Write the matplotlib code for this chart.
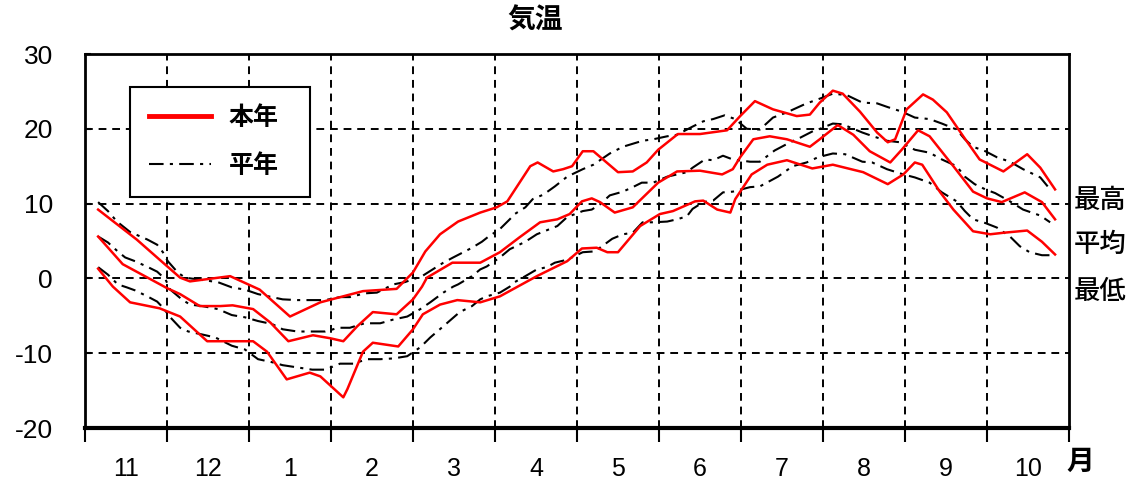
import matplotlib
matplotlib.use("Agg")
import matplotlib.pyplot as plt
from matplotlib.lines import Line2D

plt.rcParams['font.family'] = ['Liberation Sans', 'Noto Sans CJK JP', 'DejaVu Sans']

# x positions in months from Nov 1 (0 = start of Nov, 12 = end of Oct)
month_labels = ['11', '12', '1', '2', '3', '4', '5', '6', '7', '8', '9', '10']

# this year (本年) - daily max / mean / min, smoothed
x_max_now = [0.16, 0.63, 0.91, 1.16, 1.28, 1.77, 2.13, 2.50, 2.87, 3.39, 3.80, 4.00,
             4.15, 4.33, 4.55, 4.82, 5.02, 5.15, 5.43, 5.52, 5.71, 5.83, 5.94, 6.07,
             6.20, 6.50, 6.68, 6.85, 6.99, 7.23, 7.50, 7.83, 7.99, 8.17, 8.39, 8.68,
             8.84, 8.96, 9.12, 9.24, 9.45, 9.66, 9.79, 9.88, 10.02, 10.22, 10.34, 10.51,
             10.71, 10.91, 11.20, 11.49, 11.65, 11.83]
y_max_now = [9.2, 5.2, 2.5, 0.1, -0.4, 0.3, -1.5, -5.1, -3.2, -1.7, -1.4, 0.8,
             3.6, 5.9, 7.6, 8.8, 9.5, 10.3, 15.0, 15.5, 14.3, 14.6, 15.0, 17.0,
             17.0, 14.2, 14.3, 15.5, 17.2, 19.3, 19.3, 19.8, 21.7, 23.7, 22.6, 21.7,
             21.9, 23.5, 25.1, 24.7, 22.3, 19.5, 18.2, 18.6, 22.6, 24.6, 23.9, 22.2,
             19.0, 15.9, 14.3, 16.6, 14.8, 11.9]

x_avg_now = [0.16, 0.46, 1.00, 1.16, 1.40, 1.65, 1.80, 2.05, 2.26, 2.48, 2.78, 2.99,
             3.15, 3.32, 3.51, 3.80, 4.00, 4.11, 4.17, 4.48, 4.82, 5.06, 5.30, 5.55,
             5.76, 5.91, 6.06, 6.18, 6.28, 6.46, 6.68, 6.99, 7.22, 7.50, 7.77, 7.90,
             7.99, 8.15, 8.35, 8.56, 8.84, 8.96, 9.18, 9.37, 9.57, 9.82, 9.96, 10.16,
             10.30, 10.59, 10.83, 11.00, 11.18, 11.46, 11.67, 11.83]
y_avg_now = [5.6, 1.9, -1.3, -2.1, -3.7, -3.7, -3.6, -4.1, -5.9, -8.4, -7.6, -8.0,
             -8.4, -6.4, -4.5, -4.8, -2.8, -1.1, 0.1, 2.1, 2.1, 3.5, 5.5, 7.5,
             7.9, 8.6, 10.3, 10.7, 10.2, 8.8, 9.5, 12.8, 14.3, 14.4, 13.9, 14.6,
             16.2, 18.6, 19.0, 18.6, 17.6, 18.6, 20.5, 19.2, 17.0, 15.5, 17.2, 19.8,
             19.0, 15.0, 11.6, 10.7, 10.2, 11.5, 10.2, 7.9]

x_min_now = [0.16, 0.34, 0.55, 0.91, 1.16, 1.49, 1.77, 2.05, 2.22, 2.46, 2.74, 2.87,
             3.15, 3.20, 3.39, 3.51, 3.82, 4.00, 4.12, 4.33, 4.54, 4.82, 5.06, 5.51,
             5.88, 6.06, 6.24, 6.37, 6.50, 6.77, 7.01, 7.17, 7.44, 7.54, 7.71, 7.87,
             7.93, 8.13, 8.32, 8.56, 8.87, 9.12, 9.49, 9.79, 9.98, 10.12, 10.21, 10.43,
             10.59, 10.83, 11.04, 11.20, 11.49, 11.67, 11.83]
y_min_now = [1.3, -1.1, -3.2, -4.0, -5.1, -8.4, -8.4, -8.4, -9.8, -13.5, -12.6, -13.1,
             -15.9, -14.8, -9.8, -8.6, -9.1, -6.8, -4.8, -3.5, -2.9, -3.2, -2.4, 0.3,
             2.3, 4.0, 4.1, 3.5, 3.5, 7.0, 8.6, 9.0, 10.3, 10.4, 9.2, 8.8,
             10.6, 13.9, 15.2, 15.8, 14.7, 15.2, 14.2, 12.6, 13.9, 15.5, 15.2, 11.5,
             9.2, 6.3, 5.9, 6.1, 6.4, 4.9, 3.2]

# normal (平年)
x_max_norm = [0.16, 0.28, 0.39, 0.55, 0.76, 0.88, 0.95, 1.01, 1.13, 1.22, 1.62, 1.79,
              1.95, 2.11, 2.28, 2.41, 2.59, 2.78, 2.93, 3.11, 3.23, 3.41, 3.56, 3.76,
              3.90, 4.11, 4.24, 4.37, 4.49, 4.72, 4.84, 4.91, 5.06, 5.18, 5.24, 5.37,
              5.46, 5.59, 5.73, 5.88, 6.07, 6.20, 6.28, 6.40, 6.56, 6.80, 6.93, 7.10,
              7.22, 7.41, 7.54, 7.66, 7.80, 7.93, 8.07, 8.23, 8.39, 8.56, 8.80, 8.93,
              9.12, 9.29, 9.48, 9.66, 9.79, 9.96, 10.12, 10.30, 10.45, 10.63, 10.73, 10.83,
              10.98, 11.12, 11.28, 11.44, 11.65, 11.74]
y_max_norm = [10.2, 9.0, 7.6, 6.2, 5.2, 4.5, 3.5, 2.3, 0.8, 0.1, -0.5, -1.2,
              -1.5, -2.1, -2.5, -2.8, -2.9, -2.9, -2.9, -2.5, -2.5, -2.0, -1.9, -0.8,
              -0.5, 0.3, 1.2, 2.1, 2.8, 4.1, 4.9, 5.5, 6.6, 7.9, 8.6, 9.5,
              10.6, 11.2, 12.3, 13.6, 14.6, 15.2, 15.8, 16.7, 17.6, 18.4, 18.6, 19.0,
              19.2, 20.3, 21.0, 21.3, 21.8, 21.3, 20.0, 19.9, 21.5, 22.2, 23.4, 23.9,
              24.7, 24.5, 23.5, 23.4, 22.9, 22.3, 21.5, 21.3, 20.7, 19.9, 18.6, 17.6,
              17.0, 16.2, 15.6, 14.6, 13.5, 12.3]

x_avg_norm = [0.16, 0.28, 0.40, 0.49, 0.61, 0.77, 0.88, 0.98, 1.04, 1.18, 1.28, 1.43,
              1.62, 1.79, 1.95, 2.11, 2.28, 2.41, 2.59, 2.77, 2.93, 3.09, 3.23, 3.41,
              3.60, 3.76, 3.93, 4.09, 4.21, 4.37, 4.49, 4.55, 4.72, 4.82, 4.90, 5.06,
              5.18, 5.37, 5.51, 5.76, 5.88, 6.07, 6.18, 6.28, 6.40, 6.56, 6.68, 6.79,
              6.93, 7.10, 7.22, 7.34, 7.41, 7.56, 7.66, 7.78, 7.90, 8.11, 8.23, 8.41,
              8.60, 8.72, 8.88, 8.94, 9.12, 9.24, 9.48, 9.61, 9.78, 9.94, 10.12, 10.30,
              10.45, 10.63, 10.73, 10.85, 10.98, 11.10, 11.28, 11.44, 11.65, 11.77]
y_avg_norm = [5.6, 4.8, 3.6, 2.8, 2.3, 1.5, 0.9, -0.1, -1.5, -2.8, -3.5, -3.7,
              -4.1, -4.9, -5.2, -5.7, -6.1, -6.8, -7.1, -7.1, -7.1, -6.6, -6.6, -6.0,
              -6.0, -5.5, -5.1, -4.1, -3.2, -1.9, -1.1, -0.8, 0.3, 1.2, 1.6, 2.8,
              3.9, 4.9, 5.9, 7.0, 8.2, 9.0, 9.2, 9.9, 11.1, 11.6, 12.2, 12.8,
              12.8, 13.6, 13.9, 14.2, 14.8, 15.9, 15.8, 16.4, 15.9, 15.6, 15.6, 17.1,
              18.2, 18.8, 19.7, 19.9, 20.7, 20.6, 19.5, 19.0, 18.4, 18.2, 17.2, 16.8,
              15.9, 15.0, 13.6, 12.6, 11.9, 11.4, 10.3, 9.2, 8.4, 7.5]

x_min_norm = [0.16, 0.28, 0.40, 0.51, 0.61, 0.76, 0.88, 0.95, 1.04, 1.16, 1.26, 1.43,
              1.59, 1.79, 1.95, 2.11, 2.28, 2.41, 2.59, 2.77, 2.93, 3.11, 3.27, 3.44,
              3.60, 3.76, 3.93, 4.09, 4.21, 4.37, 4.57, 4.72, 4.82, 4.90, 5.06, 5.18,
              5.24, 5.37, 5.51, 5.63, 5.73, 5.88, 6.07, 6.20, 6.28, 6.43, 6.56, 6.68,
              6.80, 6.93, 7.10, 7.22, 7.34, 7.41, 7.54, 7.66, 7.78, 7.90, 8.11, 8.23,
              8.45, 8.63, 8.80, 8.94, 9.12, 9.27, 9.48, 9.60, 9.78, 9.98, 10.12, 10.30,
              10.45, 10.63, 10.73, 10.83, 10.98, 11.12, 11.28, 11.40, 11.52, 11.67, 11.79]
y_min_norm = [1.5, 0.5, -0.8, -1.2, -1.6, -2.4, -3.1, -3.9, -5.2, -6.6, -7.1, -7.5,
              -7.9, -9.0, -9.5, -10.8, -11.2, -11.6, -11.9, -12.2, -12.2, -11.4, -11.4, -10.8,
              -10.8, -10.7, -10.4, -9.2, -7.9, -6.4, -4.5, -3.7, -2.8, -2.4, -1.9, -1.1,
              -0.5, 0.3, 1.2, 1.5, 2.1, 2.5, 3.5, 3.6, 4.1, 5.3, 5.9, 6.1,
              7.5, 7.5, 7.6, 7.9, 8.3, 9.3, 10.2, 10.4, 11.5, 11.6, 12.2, 12.3,
              13.6, 15.0, 15.5, 16.2, 16.7, 16.6, 15.6, 15.5, 14.6, 13.9, 13.5, 12.8,
              11.5, 10.3, 9.0, 7.9, 7.4, 6.8, 5.6, 4.3, 3.5, 3.1, 3.1]

fig = plt.figure(figsize=(11.37, 4.84), dpi=100)
ax = fig.add_axes([85 / 1137, 1 - 428 / 484, 984 / 1137, 374 / 484])

red = '#ff0000'
norm_style = dict(color='black', lw=1.5, linestyle=(0, (7, 3, 1.5, 3)))

# normals first so red sits on top
ax.plot(x_max_norm, y_max_norm, **norm_style)
ax.plot(x_avg_norm, y_avg_norm, **norm_style)
ax.plot(x_min_norm, y_min_norm, **norm_style)
ax.plot(x_max_now, y_max_now, color=red, lw=1.8)
ax.plot(x_avg_now, y_avg_now, color=red, lw=1.8)
ax.plot(x_min_now, y_min_now, color=red, lw=1.8)

ax.set_xlim(0, 12)
ax.set_ylim(-20, 30)

# grid
for v in range(1, 12):
    ax.axvline(v, color='black', lw=1.4, linestyle=(0, (4, 3)), zorder=0)
for h in [-10, 0, 10, 20]:
    ax.axhline(h, color='black', lw=1.4, linestyle=(0, (4, 3)), zorder=0)

for s in ['top', 'right', 'left']:
    ax.spines[s].set_linewidth(2)
ax.spines['bottom'].set_linewidth(3)

ax.set_yticks([-20, -10, 0, 10, 20, 30])
ax.set_yticklabels(['-20', '-10', '0', '10', '20', '30'])
ax.tick_params(axis='y', length=4, width=1.5, direction='in', labelsize=19, pad=23)

ax.set_xticks(range(0, 13))
ax.set_xticklabels([])
ax.tick_params(axis='x', which='major', length=10, width=1.5, direction='out')
ax.set_xticks([i + 0.5 for i in range(12)], minor=True)
ax.set_xticklabels(month_labels, minor=True)
ax.tick_params(axis='x', which='minor', length=0, labelsize=18, pad=21)

fig.text(535 / 1137, 1 - 22 / 484, '気温', ha='center', va='center',
         fontsize=20, fontweight='bold')
fig.text(1066 / 1137, 1 - 463 / 484, '月', ha='left', va='center',
         fontsize=20, fontweight='bold')
for txt, yp in [('最高', 201), ('平均', 245), ('最低', 292)]:
    fig.text(1074 / 1137, 1 - yp / 484, txt, ha='left', va='center',
             fontsize=19, fontweight='medium')

handles = [Line2D([], [], color=red, lw=3.5),
           Line2D([], [], **norm_style)]
leg = ax.legend(handles, ['本年', '平年'], loc='upper left', mode='expand',
                bbox_to_anchor=(45 / 984, (428 - 91) / 374, 180 / 984, 0.01),
                borderaxespad=0, fancybox=False, edgecolor='black', framealpha=1,
                handlelength=2.5, handletextpad=0.7, labelspacing=0.95,
                borderpad=0.75, prop={'size': 18, 'weight': 'bold'})
leg.get_frame().set_linewidth(1.5)

fig.savefig('out.png', dpi=100)
